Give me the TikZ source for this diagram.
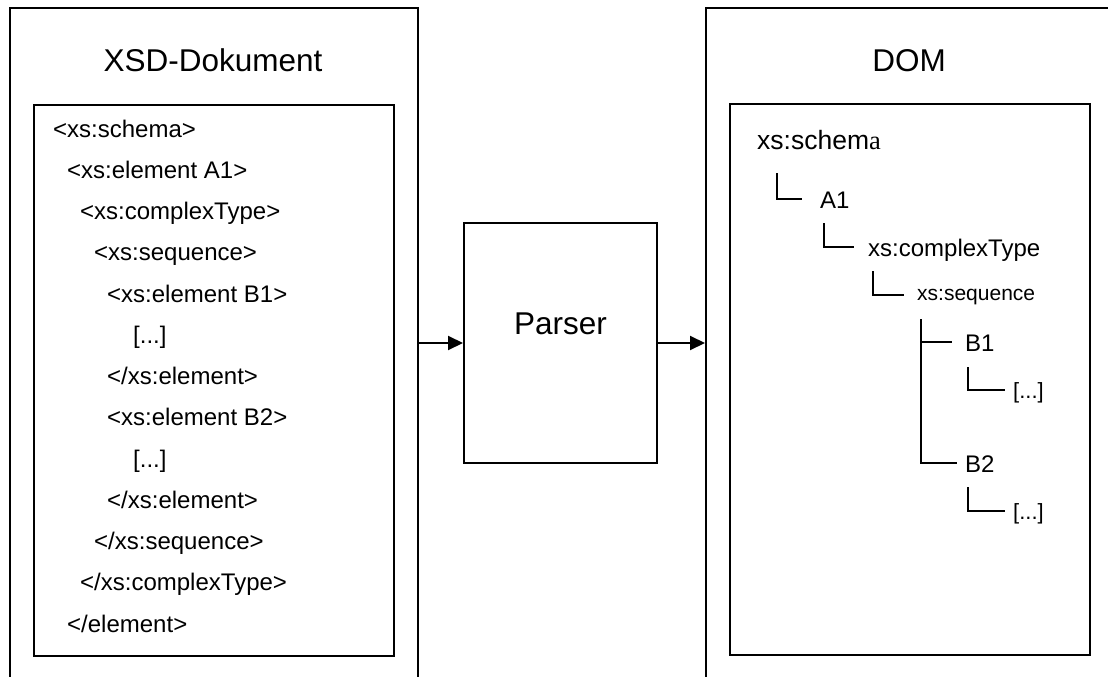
\documentclass[tikz,border=0pt]{standalone}
\usepackage{fontspec}
\setmainfont{Liberation Sans}
\newfontfamily\timesfont{Liberation Serif}
\usetikzlibrary{arrows.meta}
\begin{document}
\begin{tikzpicture}[x=1pt, y=-1pt,
  box/.style={draw, line width=2pt, rectangle, inner sep=0pt, anchor=north west},
  heading/.style={anchor=base, inner sep=0pt, font=\fontsize{31.5}{36}\selectfont},
  code/.style={anchor=base west, inner sep=0pt, font=\fontsize{24}{28}\selectfont},
  flow/.style={line width=2pt, -{Triangle[length=15pt, width=14pt]}},
  leaf/.style={anchor=west, inner sep=0pt, text height=18pt, text depth=0pt,
               font=\fontsize{24}{28}\selectfont},
  branch/.style={line width=1.8pt}]
\useasboundingbox (0,0) rectangle (1108,677);
\clip (0,0) rectangle (1108,677);
\fill[white] (0,0) rectangle (1108,677);

% frames (open towards the page border)
\node[box, minimum width=408pt, minimum height=720pt] (xsdframe) at (9,7) {};
\node[box, minimum width=360pt, minimum height=551pt] (xsdcode) at (33,104) {};
\node[box, minimum width=450pt, minimum height=720pt] (domframe) at (705,7) {};
\node[box, minimum width=360pt, minimum height=551pt] (domtree) at (729,103) {};
\node[box, anchor=center, minimum width=193pt, minimum height=240pt] (parser) at (560.5,343) {};

% headings
\node[heading] (xsdtitle) at (213,71) {XSD-Dokument};
\node[heading] (domtitle) at (909,71) {DOM};
\node[heading] (parsertitle) at (560.5,334) {Parser};

% data flow
\draw[flow] (xsdframe.east |- parser.west) -- (parser.west);
\draw[flow] (parser.east) -- (domframe.west |- parser.east);

% schema source
\node[code] (c01) at (53,137) {<xs:schema>};
\node[code] (c02) at (67,178.25) {<xs:element A1>};
\node[code] (c03) at (80,219.5) {<xs:complexType>};
\node[code] (c04) at (94,260.75) {<xs:sequence>};
\node[code] (c05) at (107,302) {<xs:element B1>};
\node[code] (c06) at (133,343.25) {[...]};
\node[code] (c07) at (107,384.5) {</xs:element>};
\node[code] (c08) at (107,425.75) {<xs:element B2>};
\node[code] (c09) at (133,467) {[...]};
\node[code] (c10) at (107,508.25) {</xs:element>};
\node[code] (c11) at (94,549.5) {</xs:sequence>};
\node[code] (c12) at (80,590.75) {</xs:complexType>};
\node[code] (c13) at (67,632) {</element>};

% document tree
\node[anchor=base west, inner sep=0pt, font=\fontsize{26.5}{30}\selectfont] (schema) at (757,149) {xs:schem{\timesfont a}};
\node[leaf] (a1) at (820,199) {A1};
\node[leaf] (ctype) at (868,247) {xs:complexType};
\node[leaf, text height=11pt, font=\fontsize{21}{25}\selectfont] (seq) at (917,295) {xs:sequence};
\node[leaf] (b1) at (965,342) {B1};
\node[leaf, text height=16pt, font=\fontsize{22}{26}\selectfont] (b1rest) at (1013,390) {[...]};
\node[leaf] (b2) at (965,463) {B2};
\node[leaf, text height=16pt, font=\fontsize{22}{26}\selectfont] (b2rest) at (1013,511) {[...]};

\coordinate (s1) at (777,173);
\coordinate (s2) at (824,223);
\coordinate (s3) at (873,271);
\coordinate (s4) at (921,319);
\coordinate (s5) at (968,367);
\coordinate (s6) at (968,487);
\draw[branch] (s1) |- ([xshift=-18pt]a1.west);
\draw[branch] (s2) |- ([xshift=-14pt]ctype.west);
\draw[branch] (s3) |- ([xshift=-13pt]seq.west);
\draw[branch] (s4) |- ([xshift=-8pt]b2.west);
\draw[branch] (s4 |- b1.west) -- ([xshift=-13pt]b1.west);
\draw[branch] (s5) |- ([xshift=-8pt]b1rest.west);
\draw[branch] (s6) |- ([xshift=-8pt]b2rest.west);
\end{tikzpicture}
\end{document}
